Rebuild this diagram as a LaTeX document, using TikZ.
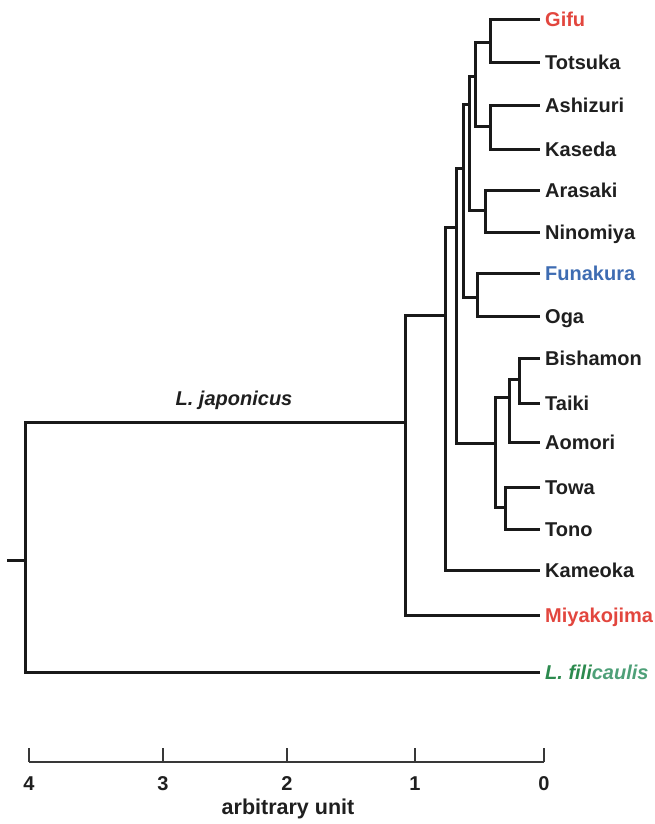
\documentclass[tikz,border=0pt]{standalone}
\usepackage{fontspec}
\setmainfont{Liberation Sans}
\definecolor{hlred}{RGB}{226,70,62}
\definecolor{hlblue}{RGB}{62,108,178}
\definecolor{hlgreen}{RGB}{44,138,78}
\definecolor{hlteal}{RGB}{78,160,120}
\begin{document}
\begin{tikzpicture}[x=1pt,y=-1pt,
  branch/.style={line width=3pt,line cap=rect,line join=miter,black!90},
  axisline/.style={line width=2pt,black!78},
  leaflabel/.style={anchor=base west,inner sep=0pt,font=\fontsize{20}{23}\selectfont\bfseries,text=black!88},
  ticklabel/.style={anchor=base,inner sep=0pt,font=\fontsize{20}{23}\selectfont\bfseries,text=black!88}]
\useasboundingbox (0,0) rectangle (655,824);

% leaf tips
\foreach \nm/\yy in {gifu/20,totsuka/63,ashizuri/106,kaseda/149,arasaki/190,
  ninomiya/232,funakura/273,oga/316,bishamon/358,taiki/403,aomori/442,
  towa/487,tono/529,kameoka/570,miyakojima/615,filicaulis/672}
  \coordinate (\nm) at (538,\yy);

% leaf labels
\node[leaflabel,text=hlred] (lGifu) at (545,27) {Gifu};
\node[leaflabel] (lTotsuka) at (545,70) {Totsuka};
\node[leaflabel] (lAshizuri) at (545,113) {Ashizuri};
\node[leaflabel] (lKaseda) at (545,156) {Kaseda};
\node[leaflabel] (lArasaki) at (545,197) {Arasaki};
\node[leaflabel] (lNinomiya) at (545,239) {Ninomiya};
\node[leaflabel,text=hlblue] (lFunakura) at (545,280) {Funakura};
\node[leaflabel] (lOga) at (545,323) {Oga};
\node[leaflabel] (lBishamon) at (545,365) {Bishamon};
\node[leaflabel] (lTaiki) at (545,410) {Taiki};
\node[leaflabel] (lAomori) at (545,449) {Aomori};
\node[leaflabel] (lTowa) at (545,494) {Towa};
\node[leaflabel] (lTono) at (545,536) {Tono};
\node[leaflabel] (lKameoka) at (545,577) {Kameoka};
\node[leaflabel,text=hlred] (lMiyakojima) at (545,622) {Miyakojima};
\node[leaflabel,text=hlgreen] (lFilicaulis) at (545,679)
  {\itshape L. fili\textcolor{hlteal}{caulis}};

% internal nodes (attachment points)
\coordinate (n1) at (490,43);
\coordinate (n2) at (490,127);
\coordinate (n3) at (475,77);
\coordinate (n4) at (485,210);
\coordinate (n5) at (469,105);
\coordinate (n6) at (477,297);
\coordinate (n7) at (463,168);
\coordinate (n8) at (519,379);
\coordinate (n9) at (509,397);
\coordinate (n10) at (505,507);
\coordinate (n11) at (495,443);
\coordinate (n12) at (456,227);
\coordinate (n13) at (445,315);
\coordinate (n14) at (405,422);
\coordinate (root) at (25,560);
\coordinate (stub) at (8,560);

% branches
\draw[branch] (gifu) -| (n1) |- (totsuka);
\draw[branch] (ashizuri) -| (n2) |- (kaseda);
\draw[branch] (n1) -| (n3) |- (n2);
\draw[branch] (arasaki) -| (n4) |- (ninomiya);
\draw[branch] (n3) -| (n5) |- (n4);
\draw[branch] (funakura) -| (n6) |- (oga);
\draw[branch] (n5) -| (n7) |- (n6);
\draw[branch] (bishamon) -| (n8) |- (taiki);
\draw[branch] (n8) -| (n9) |- (aomori);
\draw[branch] (towa) -| (n10) |- (tono);
\draw[branch] (n9) -| (n11) |- (n10);
\draw[branch] (n7) -| (n12) |- (n11);
\draw[branch] (n12) -| (n13) |- (kameoka);
\draw[branch] (n13) -| (n14) |- (miyakojima);
\draw[branch] (n14) -| (root) |- (filicaulis);
\draw[branch] (stub) -- (root);

\node[anchor=base,inner sep=0pt,font=\fontsize{20}{23}\selectfont\bfseries\itshape,text=black!88]
  (japonicus) at (234,405) {L. japonicus};

% scale axis
\foreach \nm/\xx/\lab in {a4/29/4,a3/163/3,a2/287/2,a1/415/1,a0/544/0}{
  \coordinate (\nm) at (\xx,762);
  \coordinate (\nm t) at (\xx,748);
  \draw[axisline] (\nm) -- (\nm t);
  \node[ticklabel] (\nm l) at (\xx,790) {\lab};
}
\draw[axisline] (a4) -- (a0);
\node[anchor=base,inner sep=0pt,font=\fontsize{21.5}{25}\selectfont\bfseries,text=black!88]
  (unit) at (288,814) {arbitrary unit};
\end{tikzpicture}
\end{document}
